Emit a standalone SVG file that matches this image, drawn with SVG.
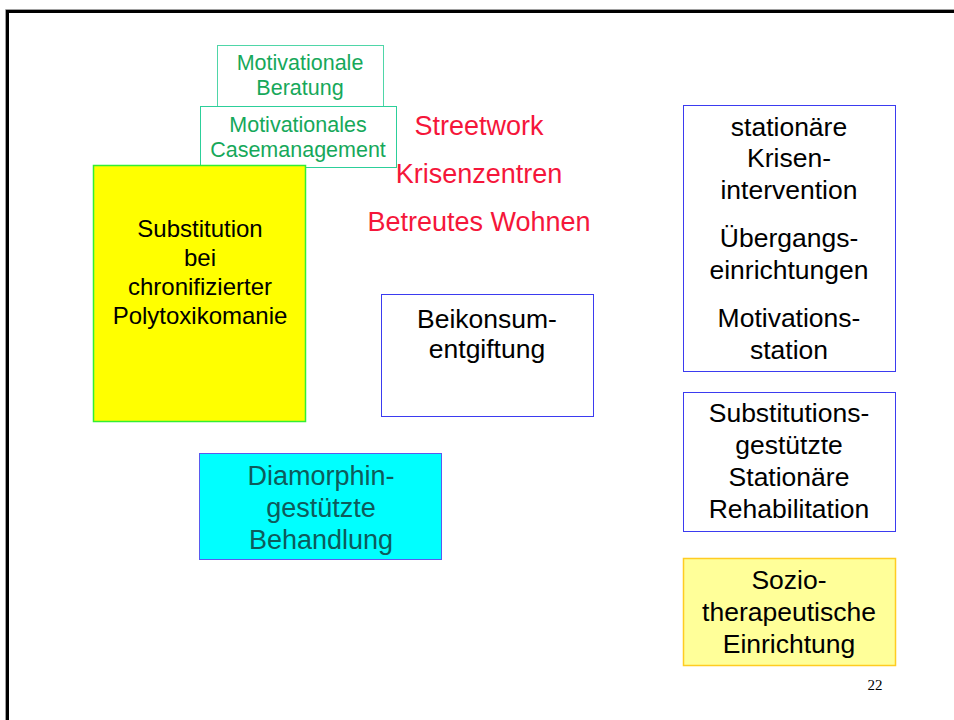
<svg xmlns="http://www.w3.org/2000/svg" width="954" height="720" viewBox="0 0 954 720">
<style>
text{font-family:"Liberation Sans",Arial,sans-serif;text-anchor:middle}
.g{fill:#16a85a;font-size:21.5px}
.k{fill:#000;font-size:24px}
.k22{fill:#000;font-size:26.5px}
.r{fill:#f5163a;font-size:27px}
.t{fill:#0e5b5b;font-size:27px}
</style>
<rect width="954" height="720" fill="#fff"/>
<path d="M5.5,720 V9.5 H954" fill="none" stroke="#a0a0a0" stroke-width="1"/>
<path d="M7.5,720 V11.5 H954" fill="none" stroke="#000" stroke-width="3"/>
<g id="motivationale-beratung">
<rect x="217.5" y="45.5" width="166" height="61" fill="#fff" stroke="#4fd6a8" stroke-width="1"/>
<text class="g" x="300" y="70">Motivationale</text>
<text class="g" x="300" y="95">Beratung</text>
</g>
<g id="casemanagement">
<rect x="200.5" y="106.5" width="196" height="61" fill="#fff" stroke="#2ccf9a" stroke-width="1"/>
<text class="g" x="298" y="132">Motivationales</text>
<text class="g" x="298" y="157">Casemanagement</text>
</g>
<g id="substitution">
<rect x="93.5" y="165.5" width="212" height="256" fill="#ffff00" stroke="#33ee33" stroke-width="1.5"/>
<text class="k" x="200" y="237">Substitution</text>
<text class="k" x="200" y="266">bei</text>
<text class="k" x="200" y="295">chronifizierter</text>
<text class="k" x="200" y="324">Polytoxikomanie</text>
</g>
<g id="streetwork"><text class="r" x="479" y="135">Streetwork</text></g>
<g id="krisenzentren"><text class="r" x="479" y="183">Krisenzentren</text></g>
<g id="betreutes-wohnen"><text class="r" x="479" y="231">Betreutes Wohnen</text></g>
<g id="beikonsum">
<rect x="381.5" y="294.5" width="212" height="122" fill="#fff" stroke="#3b3bf0" stroke-width="1"/>
<text class="k22" x="487" y="328">Beikonsum-</text>
<text class="k22" x="487" y="358">entgiftung</text>
</g>
<g id="diamorphin">
<rect x="199.5" y="453.5" width="242" height="106" fill="#00ffff" stroke="#5a5aee" stroke-width="1"/>
<text class="t" x="321" y="485">Diamorphin-</text>
<text class="t" x="321" y="517">gestützte</text>
<text class="t" x="321" y="549">Behandlung</text>
</g>
<g id="stationaer">
<rect x="683.5" y="105.5" width="212" height="266" fill="#fff" stroke="#3b3bf0" stroke-width="1"/>
<text class="k22" x="789" y="136">stationäre</text>
<text class="k22" x="789" y="167">Krisen-</text>
<text class="k22" x="789" y="199">intervention</text>
<text class="k22" x="789" y="247">Übergangs-</text>
<text class="k22" x="789" y="279">einrichtungen</text>
<text class="k22" x="789" y="327">Motivations-</text>
<text class="k22" x="789" y="359">station</text>
</g>
<g id="substitutionsgestuetzte">
<rect x="683.5" y="392.5" width="212" height="139" fill="#fff" stroke="#3b3bf0" stroke-width="1"/>
<text class="k22" x="789" y="422">Substitutions-</text>
<text class="k22" x="789" y="454">gestützte</text>
<text class="k22" x="789" y="486">Stationäre</text>
<text class="k22" x="789" y="518">Rehabilitation</text>
</g>
<g id="sozio">
<rect x="683.5" y="558.5" width="212" height="107" fill="#ffff99" stroke="#ffcc22" stroke-width="1.5"/>
<text class="k22" x="789" y="589">Sozio-</text>
<text class="k22" x="789" y="621">therapeutische</text>
<text class="k22" x="789" y="653">Einrichtung</text>
</g>
<g id="connectors"></g>
<text x="875" y="690" style="font-family:'Liberation Serif','Times New Roman',serif;font-size:15px;fill:#000">22</text>
</svg>
